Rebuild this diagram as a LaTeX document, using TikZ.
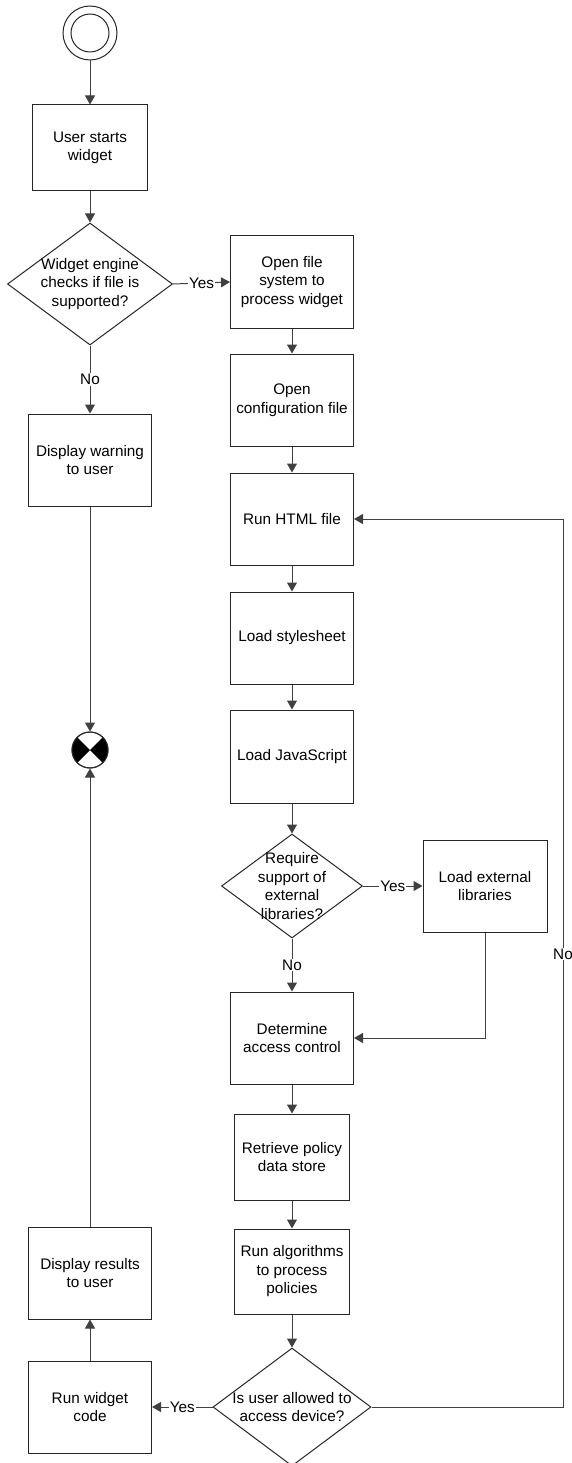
\documentclass[tikz,border=0pt]{standalone}
\usepackage{fontspec}
\setmainfont{Liberation Sans}
\usetikzlibrary{arrows.meta,shapes.geometric}
\begin{document}
\begin{tikzpicture}[x=1pt,y=-1pt,
  every node/.style={font=\fontsize{15.3}{18.5}\selectfont},
  proc/.style={draw=black!85, line width=1pt, fill=white, minimum width=123pt,
    minimum height=92pt, inner sep=0pt, align=center},
  smallproc/.style={proc, minimum width=115pt, minimum height=86pt},
  decide/.style={draw=black!85, line width=1pt, diamond, inner sep=0pt, fill=white},
  flow/.style={draw=black!75, line width=1pt, -{Triangle[length=9pt,width=10pt]}},
  lbl/.style={fill=white, inner sep=1pt},
  endpoint/.style={circle, draw=black!85, line width=1pt, inner sep=0pt}
]
\useasboundingbox (0,0) rectangle (571,1463);

% start state
\node[endpoint, minimum size=54pt] (start) at (90,33) {};
\draw[black!85, line width=1pt] (start.center) circle (19);

% left column
\node[smallproc] (usr) at (90,148) {User starts\\widget};
\node[decide, minimum width=165pt, minimum height=122pt,
  label={[align=center]center:Widget engine\\checks if file is\\supported?}] (d1) at (90,284) {};
\node[proc] (warn) at (90,460) {Display warning\\to user};
\node[endpoint, minimum size=36pt] (end) at (90,750) {};
\fill[black] (end.center) -- ++(135:18) arc[start angle=135, end angle=225, radius=18] -- cycle;
\fill[black] (end.center) -- ++(-45:18) arc[start angle=-45, end angle=45, radius=18] -- cycle;
\draw[black!85, line width=1pt] (end.center) circle (18);
\node[proc] (res) at (90,1273) {Display results\\to user};
\node[proc] (run) at (90,1407) {Run widget\\code};

% right column
\node[proc] (open) at (292,282) {Open file\\system to\\process widget};
\node[proc] (conf) at (292,400) {Open\\configuration file};
\node[proc] (html) at (292,519) {Run HTML file};
\node[proc] (css) at (292,638) {Load stylesheet};
\node[proc, minimum height=93pt] (js) at (292,756.5) {Load JavaScript};
\node[decide, minimum width=141pt, minimum height=104pt,
  label={[align=center]center:Require\\support of\\external\\libraries?}] (d2) at (292,886) {};
\node[proc, minimum width=124pt] (ext) at (485,886) {Load external\\libraries};
\node[proc] (acc) at (292,1038) {Determine\\access control};
\node[smallproc] (pol) at (292,1157) {Retrieve policy\\data store};
\node[smallproc, minimum height=85pt] (alg) at (292,1271.5) {Run algorithms\\to process\\policies};
\node[decide, minimum width=158pt, minimum height=118pt,
  label={[align=center]center:Is user allowed to\\access device?}] (d3) at (292,1407) {};

\coordinate (loopx) at (563,0);

% connectors
\draw[flow] (start) -- (usr);
\draw[flow] (usr) -- (d1);
\draw[flow] (d1.east) -- node[lbl]{Yes} (open.west);
\draw[flow] (d1.south) -- node[lbl]{No} (warn.north);
\draw[flow] (warn.south) -- (end.north);
\draw[flow] (open) -- (conf);
\draw[flow] (conf) -- (html);
\draw[flow] (html) -- (css);
\draw[flow] (css) -- (js);
\draw[flow] (js.south) -- (d2.north);
\draw[flow] (d2.east) -- node[lbl]{Yes} (ext.west);
\draw[flow] (d2.south) -- node[lbl]{No} (acc.north);
\draw[flow] (ext.south) -- (ext.south |- acc.east) -- (acc.east);
\draw[flow] (acc) -- (pol);
\draw[flow] (pol) -- (alg);
\draw[flow] (alg.south) -- (d3.north);
\draw[flow] (d3.west) -- node[lbl]{Yes} (run.east);
\draw[flow] (run) -- (res);
\draw[flow] (res.north) -- (end.south);
\draw[flow] (d3.east) -- (d3.east -| loopx)
  -- node[lbl, pos=0.51]{No} (html.east -| loopx) -- (html.east);
\end{tikzpicture}
\end{document}
